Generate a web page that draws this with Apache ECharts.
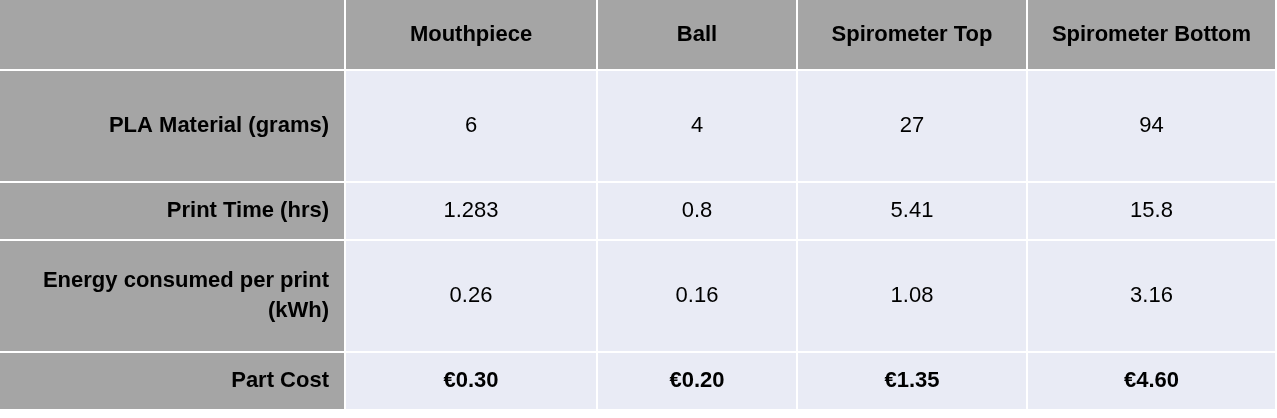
<!DOCTYPE html>
<html><head><meta charset="utf-8">
<script src="https://cdn.jsdelivr.net/npm/echarts@6/dist/echarts.min.js"></script>
<style>html,body{margin:0;padding:0;background:#fff}#c{width:1277px;height:418px}</style>
</head><body><div id="c"></div>
<script>
const columns = ["Mouthpiece", "Ball", "Spirometer Top", "Spirometer Bottom"];
const rowLabels = ["PLA Material (grams)", "Print Time (hrs)", "Energy consumed per print\n(kWh)", "Part Cost"];
const plaGrams = ["6", "4", "27", "94"];
const printHours = ["1.283", "0.8", "5.41", "15.8"];
const energyKWh = ["0.26", "0.16", "1.08", "3.16"];
const partCost = ["€0.30", "€0.20", "€1.35", "€4.60"];

// layout (not data)
const colEdges = [0, 346, 598, 798, 1028, 1277];
const rowEdges = [0, 71, 183, 241, 353, 411];
const GAP = 2;

const rows = [plaGrams, printHours, energyKWh, partCost];
const cells = [];
cells.push([0, 0, "", 0]);
columns.forEach((c, i) => cells.push([i + 1, 0, c, 0]));
rowLabels.forEach((l, r) => {
  cells.push([0, r + 1, l, 1]);
  rows[r].forEach((v, i) => cells.push([i + 1, r + 1, v, r === 3 ? 3 : 2]));
});

const chart = echarts.init(document.getElementById('c'));
chart.setOption({
  animation: false,
  grid: {left: 0, right: 0, top: 0, bottom: 0},
  xAxis: {type: 'value', min: 0, max: 1277, show: false},
  yAxis: {type: 'value', min: 0, max: 418, inverse: true, show: false},
  series: [{
    type: 'custom',
    data: cells,
    renderItem: function (params, api) {
      const c = api.value(0), r = api.value(1), kind = api.value(3);
      const txt = cells[params.dataIndex][2];
      const p0 = api.coord([colEdges[c], rowEdges[r]]);
      const p1 = api.coord([colEdges[c + 1] - GAP, rowEdges[r + 1] - GAP]);
      const gray = (r === 0 || c === 0);
      const w = p1[0] - p0[0], h = p1[1] - p0[1];
      const bold = kind === 0 || kind === 1 || kind === 3;
      const right = kind === 1;
      return {
        type: 'group',
        children: [
          {type: 'rect', shape: {x: p0[0], y: p0[1], width: w, height: h},
           style: {fill: gray ? '#a5a5a5' : '#e9ebf5'}},
          {type: 'text',
           style: {text: txt, x: right ? p0[0] + w - 15 : p0[0] + w / 2, y: p0[1] + h / 2,
             align: right ? 'right' : 'center', verticalAlign: 'middle',
             font: (bold ? 'bold ' : '') + '22px "Liberation Sans", sans-serif',
             fill: '#000', lineHeight: 30}}
        ]
      };
    }
  }]
});
</script></body></html>
